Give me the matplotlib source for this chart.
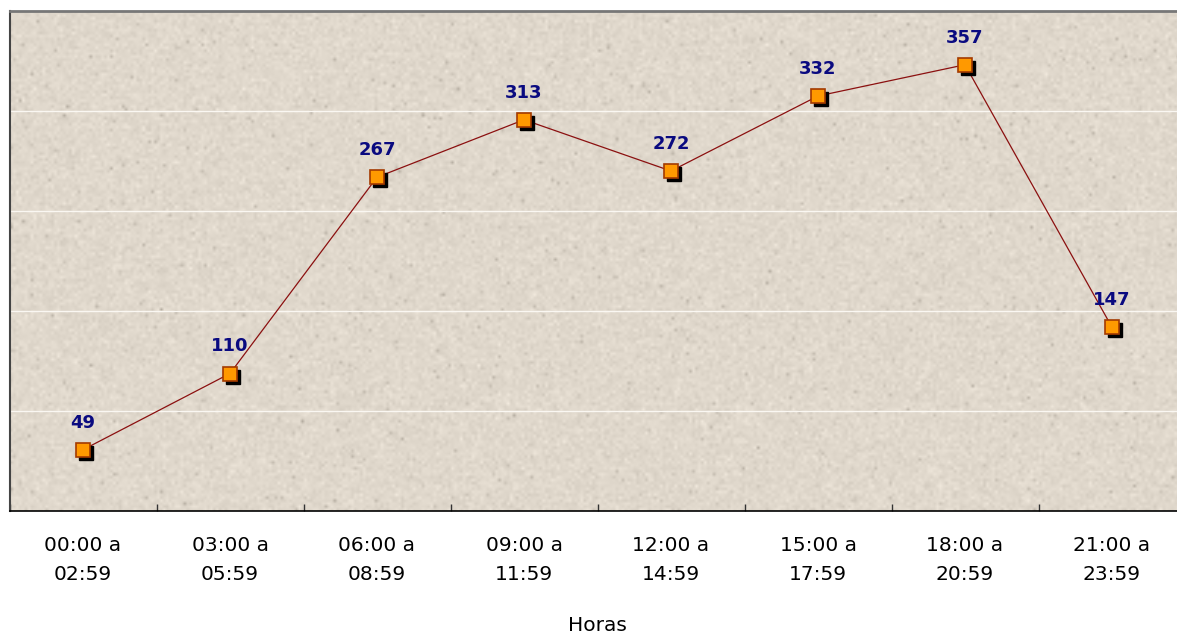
import matplotlib
matplotlib.use("Agg")
import matplotlib.pyplot as plt
import matplotlib.transforms as mtransforms
import numpy as np

# Data
categorias = ["00:00 a\n02:59", "03:00 a\n05:59", "06:00 a\n08:59", "09:00 a\n11:59",
              "12:00 a\n14:59", "15:00 a\n17:59", "18:00 a\n20:59", "21:00 a\n23:59"]
valores = [49, 110, 267, 313, 272, 332, 357, 147]
grid_y = [80, 160, 240, 320]

fig = plt.figure(figsize=(11.77, 6.38), dpi=100)
# plot area runs slightly past the right edge of the image, as in the original
ax = fig.add_axes([9.5 / 1177, 127 / 638, 1176 / 1177, 500 / 638])

n = len(valores)
x = np.arange(n)
ax.set_xlim(-0.5, n - 0.5)
ax.set_ylim(0, 400)

# Sandstone-like texture for the plot background (decoration only)
rng = np.random.default_rng(7)
h, w = 170, 400
base = np.array([224, 216, 204]) / 255.0
noise = rng.normal(0, 0.02, (h, w, 1))
spots = (rng.random((h, w, 1)) < 0.012) * rng.uniform(0.04, 0.14, (h, w, 1))
tex = np.clip(base + noise - spots, 0, 1)
ax.imshow(tex, extent=(-0.5, n - 0.5, 0, 400), aspect="auto", zorder=0,
          interpolation="bilinear")

# Gridlines
for g in grid_y:
    ax.axhline(g, color="#faf7f2", lw=1.0, zorder=1)

# Line + shadowed square markers
ax.plot(x, valores, color="#8b1010", lw=0.9, zorder=2)
shadow = mtransforms.offset_copy(ax.transData, fig=fig, x=3, y=-3, units="dots")
ax.plot(x, valores, ls="none", marker="s", ms=10, color="black", mec="black",
        transform=shadow, zorder=3)
ax.plot(x, valores, ls="none", marker="s", ms=10, color="#ff9900", mec="#a33a00",
        mew=1.2, zorder=4)

for xi, v in zip(x, valores):
    ax.annotate(str(v), (xi, v), xytext=(0, 13), textcoords="offset points",
                ha="center", va="bottom", fontsize=13, fontweight="bold",
                color="#0a0a80", zorder=5)

# Axes styling
ax.set_yticks([])
ax.set_xticks(np.arange(n + 1) - 0.5)
ax.set_xticklabels([])
ax.set_xticks(x, minor=True)
ax.set_xticklabels(categorias, minor=True, fontsize=14.5, linespacing=1.65)
ax.tick_params(axis="x", which="major", direction="in", length=5, width=1, color="#333333")
ax.tick_params(axis="x", which="minor", length=0, pad=18)

ax.spines["right"].set_visible(False)
ax.spines["top"].set_color("#777777")
ax.spines["top"].set_linewidth(2)
ax.spines["left"].set_color("#444444")
ax.spines["left"].set_linewidth(1.5)
ax.spines["bottom"].set_color("black")
ax.spines["bottom"].set_linewidth(1.2)

ax.set_xlabel("Horas", fontsize=14.5, labelpad=23)

fig.savefig("out.png", dpi=100)
